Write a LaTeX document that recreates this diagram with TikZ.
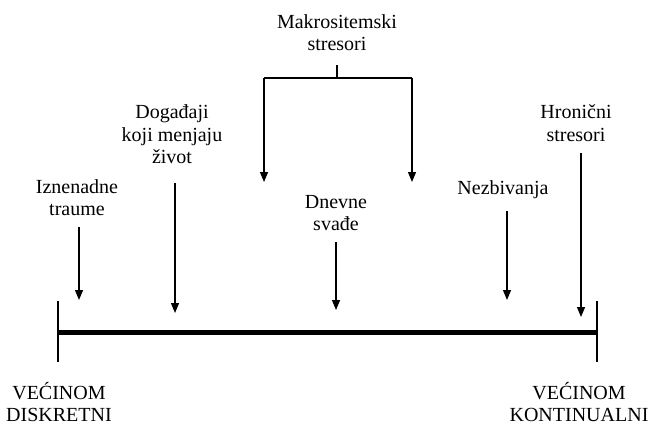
\documentclass[tikz,border=0pt]{standalone}
\usepackage{fontspec}
\setmainfont{Liberation Serif}
\usetikzlibrary{arrows.meta}

\begin{document}
\begin{tikzpicture}[x=1pt,y=-1pt,
    lbl/.style={align=center,inner sep=0pt,anchor=base,font=\fontsize{20}{22}\selectfont},
    arr/.style={line width=1.2pt,-{Triangle[length=10pt,width=8pt]}}]
    \useasboundingbox (0,0) rectangle (650,425);

    % skala od diskretnih do kontinualnih
    \draw[line width=5pt] (58,332) -- (597,332);
    \draw[line width=2.2pt] (58,301) -- (58,362);
    \draw[line width=2.2pt] (597,301) -- (597,362);
    \node[lbl] (diskr) at (59,421) {VEĆINOM\\DISKRETNI};
    \node[lbl] (kont) at (579,421) {VEĆINOM\\KONTINUALNI};

    % stresori
    \node[lbl] (makro) at (337,51) {Makrositemski\\stresori};
    \node[lbl] (trauma) at (77,215) {Iznenadne\\traume};
    \node[lbl] (dogadjaji) at (172,163) {Događaji\\koji menjaju\\život};
    \node[lbl] (svadje) at (336,230) {Dnevne\\svađe};
    \node[lbl] (nezb) at (503,194) {Nezbivanja};
    \node[lbl] (hron) at (576,141) {Hronični\\stresori};

    \coordinate (tTrauma) at (79,300);
    \coordinate (tDog) at (175,313);
    \coordinate (tSvadje) at (336,310);
    \coordinate (tNezb) at (507,300);
    \coordinate (tHron) at (581,317);
    \coordinate (mL) at (264,78);
    \coordinate (mR) at (412,78);

    \draw[line width=1.2pt,shorten <=14pt] (makro.south) -- (makro.south |- mL);
    \draw[line width=1.2pt] (mL) -- (mR);
    \draw[arr] (mL) -- ++(0,104);
    \draw[arr] (mR) -- ++(0,104);

    \draw[arr,shorten <=12pt] (trauma.south -| tTrauma) -- (tTrauma);
    \draw[arr,shorten <=20pt] (dogadjaji.south -| tDog) -- (tDog);
    \draw[arr,shorten <=12pt] (svadje.south -| tSvadje) -- (tSvadje);
    \draw[arr,shorten <=13pt] (nezb.south -| tNezb) -- (tNezb);
    \draw[arr,shorten <=12pt] (hron.south -| tHron) -- (tHron);
\end{tikzpicture}
\end{document}
